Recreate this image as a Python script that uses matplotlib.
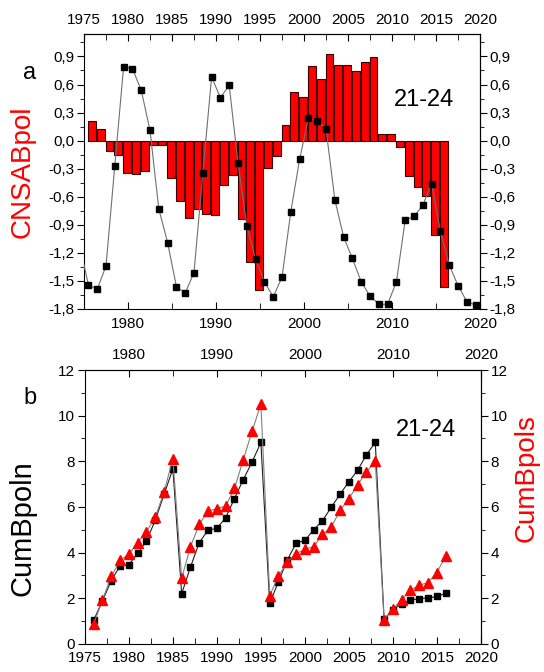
import numpy as np
import matplotlib
matplotlib.use('Agg')
import matplotlib.pyplot as plt
from matplotlib.ticker import MultipleLocator, FuncFormatter

plt.rcParams['font.family'] = ['Liberation Sans', 'DejaVu Sans']

# panel a: CNSABpol bars (yearly) and black-square curve (mid-year)
bar_years = np.arange(1976, 2017)
bar_vals = [0.21, 0.12, -0.11, -0.15, -0.35, -0.36, -0.32, -0.05, -0.05, -0.40,
            -0.65, -0.83, -0.73, -0.78, -0.79, -0.47, -0.37, -0.84, -1.30, -1.60,
            -0.29, -0.16, 0.17, 0.52, 0.47, 0.80, 0.66, 0.93, 0.81, 0.81,
            0.74, 0.84, 0.89, 0.075, 0.07, -0.07, -0.38, -0.50, -0.59, -1.01,
            -1.57]
sq_years = np.arange(1974.5, 2020, 1.0)
sq_vals = [-1.12, -1.54, -1.59, -1.34, -0.27, 0.79, 0.77, 0.54, 0.11, -0.73,
           -1.09, -1.56, -1.63, -1.41, -0.35, 0.68, 0.46, 0.59, -0.24, -0.91,
           -1.27, -1.51, -1.67, -1.46, -0.76, -0.20, 0.24, 0.21, 0.125, -0.63,
           -1.03, -1.26, -1.51, -1.66, -1.75, -1.75, -1.51, -0.85, -0.81, -0.69,
           -0.46, -0.97, -1.33, -1.55, -1.72, -1.76]

# panel b: cumulative sums
cum_years = np.arange(1976, 2017)
cumbpoln = [1.04, 1.89, 2.78, 3.42, 3.48, 3.97, 4.52, 5.42, 6.55, 7.67,
            2.20, 3.37, 4.44, 4.99, 5.06, 5.53, 6.37, 7.20, 7.97, 8.83,
            1.78, 2.73, 3.68, 4.41, 4.54, 5.00, 5.40, 5.99, 6.56, 7.11,
            7.61, 8.29, 8.83, 1.08, 1.50, 1.77, 1.92, 1.99, 2.01, 2.08,
            2.22]
cumbpols = [0.87, 1.93, 2.96, 3.66, 3.93, 4.44, 4.92, 5.56, 6.65, 8.12,
            2.88, 4.26, 5.24, 5.82, 5.93, 6.04, 6.81, 8.07, 9.31, 10.51,
            2.12, 2.98, 3.59, 3.96, 4.14, 4.26, 4.80, 5.12, 5.85, 6.37,
            6.97, 7.53, 8.00, 1.06, 1.53, 1.93, 2.36, 2.57, 2.69, 3.13,
            3.85]


def comma(v, pos):
    if abs(v) < 1e-9:
        v = 0.0
    return f'{v:.1f}'.replace('.', ',')


tfs = 11
fig = plt.figure(figsize=(5.44, 6.72), dpi=100)

# ---- panel a
ax1 = fig.add_axes([0.1544, 0.5402, 0.728, 0.4092])
ax1.bar(bar_years - 0.1, bar_vals, width=0.88, color='#ff0000',
        edgecolor='#3a0000', linewidth=0.8, zorder=2)
ax1.plot(sq_years, sq_vals, color='#707070', lw=0.8, marker='s', ms=5,
         mfc='k', mec='k', zorder=3)
ax1.set_xlim(1975, 2020)
ax1.set_ylim(-1.8, 1.14)
ax1.xaxis.set_major_locator(MultipleLocator(10))
ax1.xaxis.set_minor_locator(MultipleLocator(5))
ax1.yaxis.set_major_locator(MultipleLocator(0.3))
ax1.yaxis.set_minor_locator(MultipleLocator(0.15))
ax1.yaxis.set_major_formatter(FuncFormatter(comma))
ax1.tick_params(axis='x', which='both', direction='in', labelsize=tfs, pad=6)
ax1.tick_params(axis='x', which='major', length=5)
ax1.tick_params(axis='x', which='minor', length=4)
ax1.tick_params(axis='y', which='both', direction='out', labelsize=tfs, pad=2)
ax1.tick_params(axis='y', which='major', length=5)
ax1.tick_params(axis='y', which='minor', length=3)

t1 = ax1.secondary_xaxis('top')
t1.xaxis.set_major_locator(MultipleLocator(5))
t1.xaxis.set_minor_locator(MultipleLocator(2.5))
t1.tick_params(which='both', direction='in', labelsize=tfs, pad=5)
t1.tick_params(which='major', length=5)
t1.tick_params(which='minor', length=4)

r1 = ax1.secondary_yaxis('right')
r1.yaxis.set_major_locator(MultipleLocator(0.3))
r1.yaxis.set_minor_locator(MultipleLocator(0.15))
r1.yaxis.set_major_formatter(FuncFormatter(comma))
r1.tick_params(which='both', direction='out', labelsize=tfs, pad=2)
r1.tick_params(which='major', length=5)
r1.tick_params(which='minor', length=3)

fig.text(424 / 544, 1 - 100 / 672, '21-24', fontsize=17, ha='center', va='center')
fig.text(30 / 544, 1 - 73 / 672, 'a', fontsize=17, ha='center', va='center')
fig.text(23 / 544, 1 - 172 / 672, 'CNSABpol', fontsize=20, color='#ff0000',
         rotation=90, ha='center', va='center')

# ---- panel b
ax2 = fig.add_axes([0.156, 0.0417, 0.728, 0.4077])
ax2.plot(cum_years, cumbpoln, color='#202020', lw=0.8, marker='s', ms=5,
         mfc='k', mec='k', zorder=3)
ax2.plot(cum_years, cumbpols, color='#808080', lw=0.8, marker='^', ms=6.5,
         mfc='#ff0000', mec='#ff0000', zorder=4)
ax2.set_xlim(1975, 2020)
ax2.set_ylim(0, 12)
ax2.xaxis.set_major_locator(MultipleLocator(5))
ax2.xaxis.set_minor_locator(MultipleLocator(2.5))
ax2.yaxis.set_major_locator(MultipleLocator(2))
ax2.yaxis.set_minor_locator(MultipleLocator(1))
ax2.tick_params(axis='x', which='both', direction='in', labelsize=tfs, pad=5)
ax2.tick_params(axis='x', which='major', length=5)
ax2.tick_params(axis='x', which='minor', length=4)
ax2.tick_params(axis='y', which='both', direction='out', labelsize=tfs, pad=2)
ax2.tick_params(axis='y', which='major', length=5)
ax2.tick_params(axis='y', which='minor', length=3)

t2 = ax2.secondary_xaxis('top')
t2.xaxis.set_major_locator(MultipleLocator(10))
t2.xaxis.set_minor_locator(MultipleLocator(5))
t2.tick_params(which='both', direction='in', labelsize=tfs, pad=6)
t2.tick_params(which='major', length=5)
t2.tick_params(which='minor', length=4)

r2 = ax2.secondary_yaxis('right')
r2.yaxis.set_major_locator(MultipleLocator(2))
r2.yaxis.set_minor_locator(MultipleLocator(1))
r2.tick_params(which='both', direction='out', labelsize=tfs, pad=2)
r2.tick_params(which='major', length=5)
r2.tick_params(which='minor', length=3)

fig.text(426 / 544, 1 - 430 / 672, '21-24', fontsize=17, ha='center', va='center')
fig.text(30 / 544, 1 - 398 / 672, 'b', fontsize=17, ha='center', va='center')
fig.text(22 / 544, 1 - 528 / 672, 'CumBpoln', fontsize=21, color='k',
         rotation=90, ha='center', va='center')
fig.text(527 / 544, 1 - 478 / 672, 'CumBpols', fontsize=20, color='#ff0000',
         rotation=90, ha='center', va='center')

fig.savefig('out.png', dpi=100)
